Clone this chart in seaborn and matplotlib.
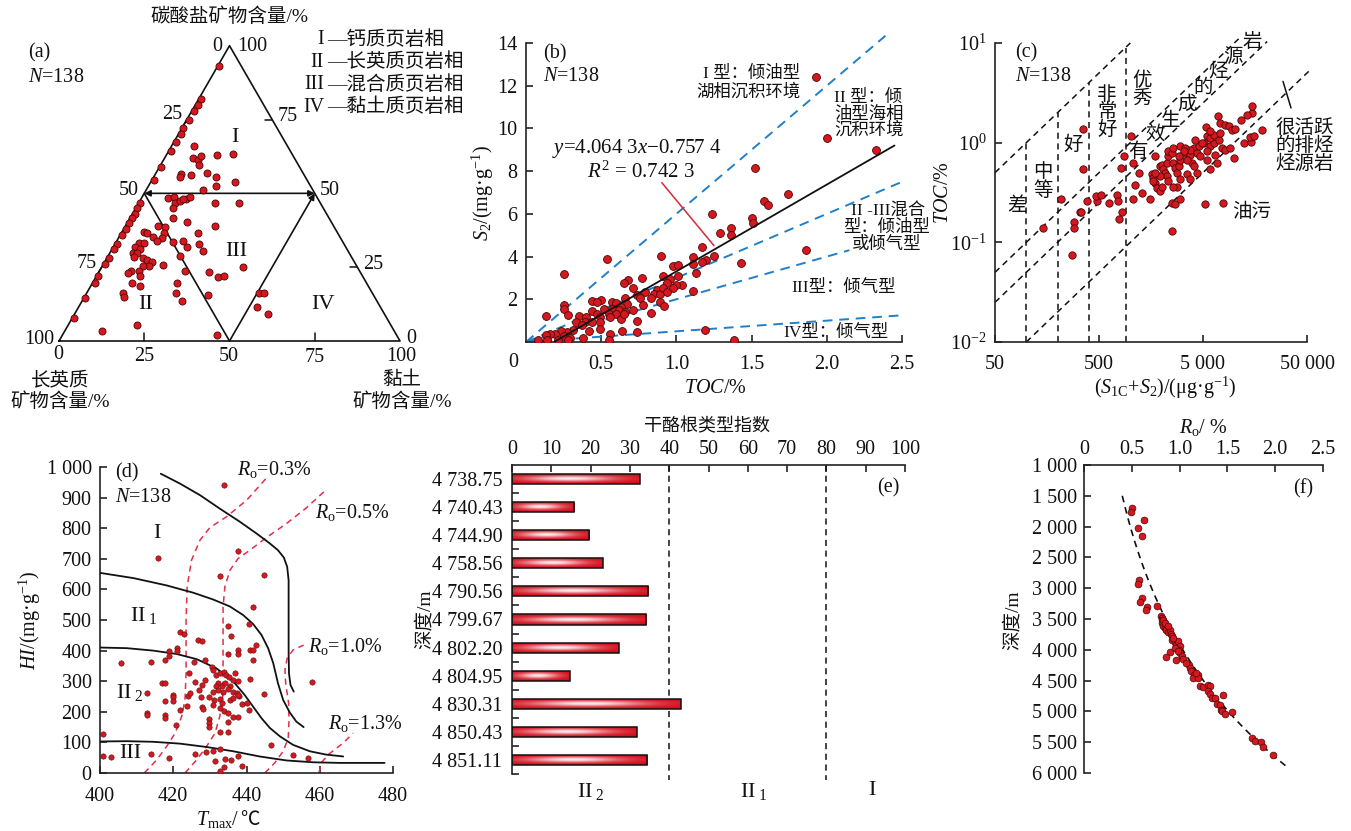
import numpy as np
import matplotlib
matplotlib.use("Agg")
import matplotlib.pyplot as plt
import seaborn as sns
from matplotlib.ticker import NullLocator, FixedLocator

# ---------------------------------------------------------------- data
# (a) ternary: carbonate and clay contents (%); felsic = 100 - carbonate - clay
CARB_A = [93, 82, 80, 78, 75, 72, 70, 67.5, 64.5, 59, 54.5, 46.6, 45, 43, 41.5, 40,
          38, 36, 33, 31, 28, 26, 22, 19.5, 14.4, 7.7,
          66.0, 61.9, 61.3, 62.8, 59.7, 63.0, 63.3, 56.6, 55.4, 56.2, 57.0, 55.6, 52.5,
          53.7, 51.1, 48.3, 48.9, 46.6, 47.5, 48.0, 48.9, 48.0, 46.6, 46.6, 44.9, 41.5,
          40.4, 38.9, 38.9, 38.7, 36.8, 36.5, 36.7, 34.8, 35.1, 34.0, 33.6, 33.9, 36.7,
          32.8, 31.7, 30.5, 33.1, 33.1, 31.7, 31.0, 29.9, 29.7, 28.3, 28.2, 27.4, 26.9,
          25.5, 25.5, 23.8, 23.8, 22.9, 22.0, 25.7, 28.9, 23.8, 23.3, 21.8, 22.0, 24.9,
          19.5, 18.6, 19.5, 16.3, 13.4, 15.5, 16.1, 15.0, 16.1, 16.4, 11.4, 9.1, 5.4,
          3.4, 2.0]
CLAY_A = [0.3, 0.5, 0.8, 0.5, 0.6, 0.4, 0.8, 0.5, 0.6, 0.4, 0.5, 0.6, 0.5, 0.8, 0.6, 0.5,
          0.7, 0.5, 0.6, 0.5, 0.8, 0.6, 0.5, 0.7, 0.5, 0.5,
          6.6, 8.3, 10.0, 10.3, 11.3, 14.7, 19.5, 7.4, 7.9, 10.5, 14.8, 18.2, 19.8,
          24.7, 16.6, 7.9, 9.3, 10.7, 11.8, 13.3, 14.0, 12.3, 22.4, 29.6, 11.1, 12.8,
          17.3, 26.3, 9.7, 11.7, 6.5, 7.5, 12.3, 12.7, 10.1, 11.8, 16.6, 19.5, 22.5,
          24.6, 21.6, 26.9, 7.0, 8.4, 6.4, 8.2, 6.8, 7.9, 7.8, 10.4, 12.0, 13.7,
          13.6, 12.0, 11.7, 9.1, 8.9, 12.9, 17.7, 21.0, 25.0, 32.2, 35.8, 37.4, 41.4,
          11.8, 14.6, 25.0, 26.2, 29.3, 35.8, 10.8, 11.6, 50.5, 52.0, 52.3, 56.7, 20.1,
          11.0, 45.2]

# (b) TOC (%) vs S2 (mg/g)
TOC_B = [1.93, 2.00, 2.33, 1.52, 1.74, 1.58, 1.61, 1.24, 1.50, 1.51, 1.36, 1.29, 1.36,
         1.86, 1.17, 1.25, 1.11, 1.20, 1.17, 1.11, 1.43, 0.90, 0.54, 0.98, 1.01, 1.13,
         1.01, 0.91, 0.25, 0.77, 0.68, 0.65, 0.96, 0.94, 1.04, 1.00, 0.71, 0.87, 0.79,
         1.11, 0.85, 0.74, 0.89, 0.76, 0.66, 0.83, 0.91, 0.98, 0.94, 0.89, 0.92, 0.78,
         0.50, 0.44, 0.47, 0.57, 0.60, 0.67, 0.63, 0.25, 0.25, 0.52, 0.57, 0.62, 0.66,
         0.71, 0.44, 0.47, 0.55, 0.60, 0.83, 0.13, 0.28, 0.35, 0.40, 0.49, 0.56, 0.63,
         0.65, 0.33, 0.39, 0.44, 0.49, 0.74, 0.37, 0.42, 0.49, 0.31, 0.27, 0.23, 0.19,
         0.16, 0.13, 0.25, 0.29, 0.38, 0.56, 0.64, 0.74, 0.08, 0.14, 0.21, 0.28, 0.55,
         1.19, 1.38]
S2_B = [12.39, 9.54, 8.98, 8.16, 6.91, 6.58, 6.40, 5.99, 5.79, 5.55, 5.36, 5.11, 5.02,
        4.29, 4.43, 4.04, 3.99, 3.86, 3.75, 3.63, 3.69, 4.02, 3.88, 3.58, 3.60, 3.24,
        3.08, 3.08, 3.17, 3.00, 2.92, 2.77, 2.94, 2.77, 2.69, 2.66, 2.55, 2.42, 2.35,
        2.39, 2.27, 2.21, 2.27, 2.08, 2.06, 2.08, 2.55, 2.55, 2.33, 1.88, 1.67, 1.72,
        1.97, 1.91, 1.88, 1.88, 1.83, 1.80, 1.64, 1.72, 1.56, 1.56, 1.53, 1.49, 1.41,
        1.49, 1.45, 1.33, 1.33, 1.33, 1.36, 1.24, 1.28, 1.24, 1.17, 1.17, 1.17, 1.09,
        1.33, 0.94, 0.94, 0.94, 0.94, 0.97, 0.78, 0.50, 0.63, 0.55, 0.45, 0.50, 0.39,
        0.36, 0.34, 0.27, 0.20, 0.19, 0.39, 0.50, 0.48, 0.11, 0.08, 0.08, 0.08, 0.08,
        0.58, 0.08]
FIT_SLOPE, FIT_INTERCEPT = 4.0643, -0.7574
# hydrogen-index guide lines (S2/TOC) and their x extent
HI_SLOPES = [6.0, 3.0, 2.0, 0.5]
HI_XMAX = [2.39, 2.50, 2.15, 2.50]

# (c) S1C+S2 (ug/g) vs TOC (%)
S12_C = [347, 347, 216, 146, 290, 288, 277, 329, 339, 381, 476, 466, 520, 630, 741, 758,
         780, 828, 817, 873, 1012, 1050, 1057, 1112, 1199, 1291, 1552, 1746, 1610, 1671,
         1734, 1799, 1909, 2009, 1644, 1936, 2009, 2084, 2163, 2244, 2328, 2244, 2328,
         2280, 2506, 2600, 2698, 2800, 2911, 3020, 2600, 3020, 3251, 3499, 3767, 3908,
         4055, 4365, 4529, 4207, 4699, 5058, 5445, 5861, 6310, 5370, 5445, 5861, 6310,
         7063, 6950, 7328, 8185, 8810, 9484, 10209, 7328, 7603, 8185, 9141, 9840, 6792,
         5861, 4365, 3499, 3020, 3767, 2800, 2506, 2698, 3020, 5176, 7762, 2506, 12270,
         14550, 14220, 15310, 18450, 14760, 14760, 13210, 11560, 3767, 5861, 5445, 3373,
         6546, 1936, 1746, 2600, 3251, 4875, 3499, 4055, 2911]
TOC_C = [1.37, 0.54, 0.27, 0.14, 0.16, 0.14, 0.075, 0.20, 0.20, 0.26, 0.26, 0.29, 0.30,
         0.25, 0.30, 0.26, 0.17, 0.20, 0.56, 0.73, 1.18, 0.63, 0.27, 0.38, 0.50, 0.31,
         0.27, 0.74, 0.48, 0.44, 0.39, 0.35, 0.33, 0.36, 0.41, 0.58, 0.60, 0.54, 0.50,
         0.46, 0.41, 0.63, 0.73, 0.82, 0.78, 0.63, 0.56, 0.50, 0.58, 0.67, 0.88, 0.92,
         0.79, 0.85, 0.76, 0.63, 0.88, 0.79, 0.92, 1.07, 0.73, 0.99, 0.67, 0.92, 0.99,
         1.43, 1.16, 1.11, 1.20, 1.07, 1.84, 1.57, 1.52, 1.48, 1.35, 1.37, 1.25, 0.88,
         0.85, 0.88, 0.70, 0.63, 0.54, 0.50, 0.48, 0.43, 0.43, 0.36, 0.25, 0.24, 0.27,
         0.24, 0.25, 0.13, 0.99, 1.01, 1.14, 1.16, 1.35, 1.99, 2.32, 1.91, 1.70, 0.85,
         1.30, 0.82, 0.88, 0.76, 0.46, 0.50, 0.36, 0.82, 0.99, 0.67, 0.58, 0.73]
# source-rock classes: TOC = (S1C+S2)/ratio
CLASS_RATIOS = [100, 1000, 2000, 10000]
CLASS_XRANGE = [(50, 1000), (50, 11000), (50, 20700), (100, 52000)]
GRADE_BOUNDS = [100, 200, 400, 900]

# (d) Tmax (degC) vs HI (mg/g)
TMAX_D = [433.8, 415.9, 437.8, 432.8, 444.8, 441.8, 440.7, 434.9, 435.8, 421.8, 422.8,
          426.7, 427.8, 420.9, 420.9, 418.9, 418.9, 417.8, 413.9, 405.8, 428.8, 425.7,
          434.9, 437.8, 437.8, 440.9, 441.8, 442.7, 441.8, 424.3, 430.5, 430.9, 431.8,
          432.7, 433.8, 434.5, 435.3, 436.8, 436.4, 437.7, 440.9, 416.9, 417.8, 425.9,
          428.8, 432.3, 433.2, 434.1, 435.5, 431.8, 432.3, 433.6, 435.0, 436.4, 437.3,
          437.9, 427.9, 430.9, 427.7, 420.0, 419.8, 419.8, 412.8, 417.8, 423.9, 424.7,
          426.9, 429.8, 431.2, 432.7, 433.2, 435.5, 436.4, 437.7, 438.9, 440.0, 444.7,
          427.8, 428.0, 430.9, 432.7, 433.9, 435.0, 436.2, 437.8, 440.8, 412.8, 412.8,
          417.8, 417.8, 421.8, 423.8, 429.8, 429.8, 429.8, 420.8, 434.9, 434.9, 432.7,
          400.8, 446.8, 400.9, 402.9, 413.8, 418.9, 426.0, 428.9, 430.9, 432.7, 437.7,
          434.0, 435.8, 431.3, 433.8, 438.9, 432.7, 452.8, 456.9, 457.9]
HI_D = [942, 704, 726, 643, 647, 541, 487, 480, 449, 460, 455, 435, 433, 410, 400, 398,
        383, 370, 364, 361, 370, 362, 388, 402, 389, 402, 402, 417, 370, 326, 348, 335,
        321, 326, 329, 321, 315, 328, 304, 301, 307, 293, 293, 299, 305, 293, 283, 293,
        285, 283, 270, 266, 274, 266, 263, 253, 287, 266, 250, 255, 247, 234, 261, 234,
        252, 261, 272, 247, 239, 241, 228, 239, 245, 254, 226, 230, 259, 217, 209, 223,
        212, 203, 196, 183, 184, 207, 196, 191, 190, 179, 205, 220, 177, 163, 150, 157,
        168, 134, 134, 126, 92, 54, 52, 63, 48, 62, 68, 73, 78, 54, 47, 41, 38, 20, 22,
        5, 60, 49, 297]
# kerogen-type boundaries
TYPE_I_T = [416.6, 421.8, 427.3, 432.7, 438.2, 442.7, 446.4, 448.6, 450.2, 451.1, 451.5,
            451.5, 451.5, 451.6, 452.0, 452.9]
TYPE_I_HI = [978, 946, 908, 864, 821, 783, 750, 728, 704, 674, 630, 500, 391, 326, 288, 266]
TYPE_II1_T = [400.0, 409.1, 418.2, 425.5, 430.9, 435.5, 439.1, 441.8, 444.1, 445.9, 447.3,
              448.6, 450.0, 451.8, 453.6, 455.6]
TYPE_II1_HI = [654, 637, 613, 589, 567, 544, 516, 487, 451, 408, 359, 293, 239, 198, 168, 150]
TYPE_II2_T = [400.0, 407.3, 414.5, 420.9, 426.4, 431.8, 436.4, 439.5, 441.8, 444.1, 446.4,
              449.1, 452.7, 457.3, 461.8, 466.4]
TYPE_II2_HI = [410, 408, 400, 389, 372, 342, 299, 255, 217, 179, 147, 120, 92, 71, 60, 54]
TYPE_III_T = [400.0, 407.3, 414.5, 421.8, 429.1, 436.4, 443.6, 450.9, 458.2, 465.5, 477.7]
TYPE_III_HI = [103, 104, 102, 96, 85, 71, 54, 41, 35, 33, 33]
# vitrinite-reflectance isolines
RO03_T = [412.1, 415.5, 418.2, 420.5, 422.3, 423.2, 423.5, 423.5, 423.8, 425.0, 427.3,
          430.0, 434.5, 440.0, 445.9]
RO03_HI = [0, 43, 87, 130, 185, 239, 326, 500, 609, 696, 761, 802, 837, 891, 970]
RO05_T = [423.2, 426.4, 429.1, 431.4, 432.7, 433.5, 433.6, 433.6, 434.1, 435.5, 437.7,
          440.9, 445.5, 450.9, 456.4, 461.4]
RO05_HI = [0, 43, 87, 130, 185, 250, 337, 543, 609, 663, 701, 728, 770, 815, 867, 922]
RO10_T = [445.0, 447.7, 450.0, 451.4, 451.6, 451.5, 450.7, 450.5, 451.1, 452.7, 455.6]
RO10_HI = [0, 33, 71, 114, 174, 228, 293, 337, 375, 402, 418]
RO13_T = [459.8, 460.4, 462.3, 466.4, 469.1]
RO13_HI = [0, 33, 60, 98, 130]

# (e) kerogen type index by depth
DEPTH_LABELS = ["4 738.75", "4 740.43", "4 744.90", "4 758.56", "4 790.56", "4 799.67",
                "4 802.20", "4 804.95", "4 830.31", "4 850.43", "4 851.11"]
KTI_VALUES = [32.5, 15.8, 19.7, 23.1, 34.7, 34.1, 27.1, 14.7, 42.9, 31.7, 34.4]
KTI_BOUNDS = [40, 80]

# (f) vitrinite reflectance vs depth
RO_F = [0.506, 0.492, 0.628, 0.565, 0.610, 0.579, 0.565, 0.610, 0.586, 0.659, 0.645,
        0.764, 0.806, 0.812, 0.819, 0.812, 0.826, 0.844, 0.861, 0.879, 0.896, 0.914,
        0.924, 0.917, 0.948, 0.966, 0.983, 1.001, 0.994, 1.008, 1.029, 0.900, 0.861,
        0.966, 1.036, 1.098, 1.105, 1.116, 1.147, 1.140, 1.193, 1.193, 1.210, 1.245,
        1.297, 1.315, 1.297, 1.322, 1.339, 1.370, 1.454, 1.395, 1.426, 1.437, 1.447,
        1.472, 1.552, 1.761, 1.786, 1.855, 1.873, 1.977, 0.826, 0.844, 0.879, 0.931,
        0.948, 0.983, 1.071, 1.175]
DEPTH_F = [1692, 1767, 1892, 2016, 2146, 2865, 2930, 3151, 3221, 3308, 3362, 3297, 3448,
           3486, 3524, 3567, 3611, 3648, 3675, 3719, 3686, 3740, 3784, 3838, 3875, 3919,
           3865, 3946, 4000, 4054, 4108, 4043, 4119, 4173, 4146, 4243, 4297, 4340, 4405,
           4459, 4416, 4459, 4594, 4605, 4578, 4594, 4665, 4714, 4784, 4784, 4740, 4876,
           4903, 4973, 5000, 5038, 5016, 5432, 5486, 5502, 5578, 5713, 3514, 3567, 3621,
           3811, 3973, 4027, 4216, 4378]
# exponential Ro-depth trend: Ro = A * exp(B * (depth - D0))
RO_TREND_A, RO_TREND_B, RO_TREND_D0 = 0.401, 0.000379, 1503
RO_TREND_RANGE = (1500, 5880)

# ---------------------------------------------------------------- style
sns.set_style("ticks")
plt.rcParams["font.family"] = ["Liberation Serif", "Noto Sans CJK SC"]
plt.rcParams["mathtext.fontset"] = "custom"
plt.rcParams["mathtext.rm"] = "Liberation Serif"
plt.rcParams["mathtext.it"] = "Liberation Serif:italic"
plt.rcParams["mathtext.bf"] = "Liberation Serif:bold"
for key in ["text.color", "axes.labelcolor", "xtick.color", "ytick.color"]:
    plt.rcParams[key] = "#111111"
plt.rcParams["axes.edgecolor"] = "#222222"
plt.rcParams["axes.linewidth"] = 1.2

RED = "#d51820"
EDGE = "#4a0606"
BLUE = "#1f80c8"
NUM = 14.5

W, H = 1351, 831
fig = plt.figure(figsize=(W / 100, H / 100), dpi=100)


def px_axes(left, top, right, bottom):
    return fig.add_axes([left / W, 1 - bottom / H, (right - left) / W, (bottom - top) / H])


def ptext(x, y, s, **kw):
    kw.setdefault("ha", "center")
    kw.setdefault("va", "center")
    fig.text(x / W, 1 - y / H, s, **kw)


def style_axes(ax, spines, pad=6):
    for side in ["left", "right", "top", "bottom"]:
        ax.spines[side].set_visible(side in spines)
    ax.tick_params(direction="in", length=5, width=1.1, labelsize=NUM, pad=pad)
    ax.tick_params(which="minor", direction="in", length=5, width=1.1)


def dots(ax, x, y, s, lw=0.6, edge=EDGE, z=4):
    sns.scatterplot(x=np.asarray(x), y=np.asarray(y), ax=ax, s=s, color=RED,
                    edgecolor=edge, linewidth=lw, legend=False, zorder=z)


# ---------------------------------------------------------------- (a) ternary
ax = px_axes(0, 0, 470, 420)
ax.set_xlim(-59 / 341, (470 - 59) / 341)
ax.set_ylim((341 - 420) / 341, 1.0)
ax.axis("off")
h = np.sqrt(3) / 2


def tern(carb, clay):
    c = np.asarray(carb, dtype=float) / 100
    k = np.asarray(clay, dtype=float) / 100
    return k + c / 2, c * h


ax.plot([0, 1, 0.5, 0], [0, 0, h, 0], color="#111", lw=1.2, zorder=2)
ax.plot([0.25, 0.5], [h / 2, 0], color="#111", lw=1.2, zorder=2)
ax.annotate("", xy=(0.75, h / 2), xytext=(0.25, h / 2),
            arrowprops=dict(arrowstyle="<|-|>", color="#111", lw=1.2,
                            shrinkA=0, shrinkB=0, mutation_scale=9))
ax.annotate("", xy=(0.75, h / 2), xytext=(0.5, 0),
            arrowprops=dict(arrowstyle="-|>", color="#111", lw=1.2,
                            shrinkA=0, shrinkB=0, mutation_scale=9))
tl = 0.022
for v in (0.25, 0.75):
    ax.plot([v, v], [0, tl], color="#111", lw=1.1)
    rx, ry = 1 - v / 2, v * h
    ax.plot([rx, rx - tl], [ry, ry], color="#111", lw=1.1)
    lx, ly = v / 2, v * h
    ax.plot([lx, lx - tl * 0.5], [ly, ly - tl * 0.866], color="#111", lw=1.1)

tx, ty = tern(CARB_A, CLAY_A)
dots(ax, tx, ty, s=26)

ax.text(0.4985, 0.950, "碳酸盐矿物含量/%", fontsize=14, ha="center", va="center")
for s, x, y in [("0", 0.463, 0.865), ("100", 0.566, 0.865),
                ("25", 0.331, 0.663), ("50", 0.205, 0.440), ("75", 0.082, 0.226),
                ("100", -0.059, 0.003), ("75", 0.672, 0.657), ("50", 0.795, 0.440),
                ("25", 0.921, 0.223), ("0", 1.032, 0.006), ("0", -0.003, -0.041),
                ("25", 0.249, -0.044), ("50", 0.4985, -0.044), ("75", 0.751, -0.047),
                ("100", 1.003, -0.044)]:
    ax.text(x, y, s, fontsize=NUM, ha="center", va="center")
ax.text(0.003, -0.114, "长英质", fontsize=14, ha="center", va="center")
ax.text(0.003, -0.179, "矿物含量/%", fontsize=14, ha="center", va="center")
ax.text(1.006, -0.114, "黏土", fontsize=14, ha="center", va="center")
ax.text(1.006, -0.179, "矿物含量/%", fontsize=14, ha="center", va="center")
ax.text(-0.091, 0.845, "(a)", fontsize=NUM, ha="left", va="center")
ax.text(-0.091, 0.774, r"$N$=138", fontsize=NUM, ha="left", va="center")
for numeral, name, y in [("I", "钙质页岩相", 0.883), ("II", "长英质页岩相", 0.818),
                         ("III", "混合质页岩相", 0.751), ("IV", "黏土质页岩相", 0.686)]:
    ax.text(0.777, y, numeral, fontsize=14.5, ha="right", va="center")
    ax.text(0.786, y, "—" + name, fontsize=14, ha="left", va="center")
for s, x, y in [("I", 0.516, 0.598), ("II", 0.255, 0.106), ("III", 0.519, 0.261),
                ("IV", 0.774, 0.106)]:
    ax.text(x, y, s, fontsize=16, ha="center", va="center")

# ---------------------------------------------------------------- (b) TOC-S2
ax = px_axes(526, 43, 902, 342)
style_axes(ax, ["left", "bottom"])
ax.tick_params(axis="x", pad=9)
ax.set_xlim(0, 2.5)
ax.set_ylim(0, 14)
ax.set_xticks([0.5, 1.0, 1.5, 2.0, 2.5])
ax.set_xticklabels(["0.5", "1.0", "1.5", "2.0", "2.5"])
ax.set_yticks([2, 4, 6, 8, 10, 12, 14])
ax.set_yticklabels(["2", "4", "6", "8", "10", "12", "14"])
ax.text(-0.084, -0.95, "0", fontsize=NUM, ha="center", va="center", clip_on=False)
for slope, xmax in zip(HI_SLOPES, HI_XMAX):
    xs = np.array([0.0, xmax])
    sns.lineplot(x=xs, y=slope * xs, ax=ax, color=BLUE, lw=1.4, zorder=2,
                 dashes=False, linestyle=(0, (5, 3.5)), clip_on=False)
fx = np.array([-FIT_INTERCEPT / FIT_SLOPE, 2.45])
sns.lineplot(x=fx, y=FIT_SLOPE * fx + FIT_INTERCEPT, ax=ax, color="#111", lw=1.3, zorder=5)
dots(ax, TOC_B, S2_B, s=32, z=4)
ax.plot([0.903, 1.25], [7.46, 4.51], color="#d42a3a", lw=1.1, zorder=6)
ax.text(0.115, 13.5, "(b)", fontsize=NUM, ha="left", va="center")
ax.text(0.115, 12.42, r"$N$=138", fontsize=NUM, ha="left", va="center")
ax.text(1.825, 12.56, "I 型：倾油型", fontsize=12.5, ha="right", va="center")
ax.text(1.825, 11.67, "湖相沉积环境", fontsize=12.5, ha="right", va="center")
ax.text(2.05, 11.43, "II 型：倾", fontsize=12.5, ha="left", va="center")
ax.text(2.05, 10.64, "油型海相", fontsize=12.5, ha="left", va="center")
ax.text(2.05, 9.93, "沉积环境", fontsize=12.5, ha="left", va="center")
ax.text(0.17, 9.04, r"$y$=4.064 3$x$−0.757 4", fontsize=15, ha="left", va="center")
ax.text(0.405, 7.96, r"$R^2$ = 0.742 3", fontsize=15, ha="left", va="center")
ax.text(2.164, 6.10, "II -III混合", fontsize=12.5, ha="left", va="center", clip_on=False)
ax.text(2.108, 5.32, "型：倾油型", fontsize=12.5, ha="left", va="center", clip_on=False)
ax.text(2.164, 4.54, "或倾气型", fontsize=12.5, ha="left", va="center", clip_on=False)
ax.text(1.766, 2.55, "III型：倾气型", fontsize=12.5, ha="left", va="center")
ax.text(1.71, 0.42, "IV型：倾气型", fontsize=12.5, ha="left", va="center")
ax.set_xlabel("")
ax.set_ylabel("")
ptext(483, 193, r"$S_2$/(mg·g$^{-1}$)", fontsize=NUM, rotation=90)
ptext(715, 388, r"$TOC$/%", fontsize=NUM)

# ---------------------------------------------------------------- (c) S1+S2 - TOC
ax = px_axes(995, 43, 1307, 342)
style_axes(ax, ["left", "bottom"], pad=6)
ax.tick_params(axis="x", pad=9)
ax.set_xscale("log")
ax.set_yscale("log")
ax.set_xlim(50, 50000)
ax.set_ylim(0.01, 10)
ax.xaxis.set_major_locator(FixedLocator([50, 500, 5000, 50000]))
ax.xaxis.set_minor_locator(NullLocator())
ax.yaxis.set_major_locator(FixedLocator([0.01, 0.1, 1, 10]))
ax.yaxis.set_minor_locator(NullLocator())
ax.set_xticklabels(["50", "500", "5 000", "50 000"])
ax.set_yticklabels([r"$10^{-2}$", r"$10^{-1}$", r"$10^{0}$", r"$10^{1}$"])
for ratio, (x0, x1) in zip(CLASS_RATIOS, CLASS_XRANGE):
    xs = np.array([x0, x1], dtype=float)
    ax.plot(xs, xs / ratio, color="#111", lw=1.1, ls=(0, (4, 3)), clip_on=False, zorder=2)
for xb in GRADE_BOUNDS:
    ax.plot([xb, xb], [0.01, xb / CLASS_RATIOS[0]], color="#111", lw=1.1,
            ls=(0, (4, 3)), zorder=2)
ax.plot([29400, 35100], [4.12, 2.23], color="#111", lw=1.1, clip_on=False)
dots(ax, S12_C, TOC_C, s=28)
ax.text(77.8, 8.0, "(c)", fontsize=NUM, ha="left", va="center")
ax.text(77.8, 4.6, r"$N$=138", fontsize=NUM, ha="left", va="center")
ax.text(81.5, 0.228, "差", fontsize=14, ha="center", va="center")
ax.text(145, 0.405, "中\n等", fontsize=14, ha="center", va="center", linespacing=1.0)
ax.text(282, 0.953, "好", fontsize=14, ha="center", va="center")
ax.text(598, 2.0, "非\n常\n好", fontsize=14, ha="center", va="center", linespacing=0.95)
ax.text(1300, 3.4, "优\n秀", fontsize=14, ha="center", va="center", linespacing=1.0)
for ch, x, y in [("有", 1189, 0.81), ("效", 1734, 1.20), ("生", 2470, 1.62),
                 ("成", 3524, 2.40), ("的", 5024, 3.56), ("烃", 7000, 5.15),
                 ("源", 9770, 7.28), ("岩", 14860, 10.3)]:
    ax.text(x, y, ch, fontsize=14, ha="center", va="center", clip_on=False)
ax.text(47100, 0.93, "很活跃\n的排烃\n烃源岩", fontsize=14, ha="center", va="center",
        linespacing=1.0, clip_on=False)
ax.text(14800, 0.204, "油污", fontsize=14, ha="center", va="center")
ax.set_xlabel("")
ax.set_ylabel("")
ptext(943, 193, r"$TOC$/%", fontsize=NUM, rotation=90)
ptext(1165, 388, r"($S_{\rm 1C}$+$S_2$)/(μg·g$^{-1}$)", fontsize=NUM)

# ---------------------------------------------------------------- (d) Tmax - HI
ax = px_axes(100, 467, 393, 773)
style_axes(ax, ["left", "bottom"])
ax.tick_params(axis="x", pad=10)
ax.set_xlim(400, 480)
ax.set_ylim(0, 1000)
ax.set_xticks([400, 420, 440, 460, 480])
ax.set_yticks(range(0, 1001, 100))
ax.set_yticklabels([str(v) if v < 1000 else "1 000" for v in range(0, 1001, 100)])
for tt, hh in [(TYPE_I_T, TYPE_I_HI), (TYPE_II1_T, TYPE_II1_HI),
               (TYPE_II2_T, TYPE_II2_HI), (TYPE_III_T, TYPE_III_HI)]:
    ax.plot(tt, hh, color="#111", lw=1.3, zorder=3, solid_capstyle="round")
for tt, hh in [(RO03_T, RO03_HI), (RO05_T, RO05_HI), (RO10_T, RO10_HI), (RO13_T, RO13_HI)]:
    ax.plot(tt, hh, color="#e0304a", lw=1.1, ls=(0, (4, 3)), zorder=2)
dots(ax, TMAX_D, HI_D, s=15, lw=0.4, edge="#5a1010")
ax.text(404.1, 980, "(d)", fontsize=NUM, ha="left", va="center")
ax.text(404.1, 900, r"$N$=138", fontsize=NUM, ha="left", va="center")
ax.text(415.5, 783, "I", fontsize=16, ha="center", va="center")
ax.text(408.2, 516, r"II$_{\ 1}$", fontsize=16, ha="left", va="center")
ax.text(404.5, 263, r"II$_{\ 2}$", fontsize=16, ha="left", va="center")
ax.text(408.2, 65, "III", fontsize=16, ha="center", va="center")
ax.text(437.3, 991, r"$R_{\rm o}$=0.3%", fontsize=NUM, ha="left", va="center", clip_on=False)
ax.text(458.6, 850, r"$R_{\rm o}$=0.5%", fontsize=NUM, ha="left", va="center")
ax.text(456.8, 415, r"$R_{\rm o}$=1.0%", fontsize=NUM, ha="left", va="center")
ax.text(462.3, 163, r"$R_{\rm o}$=1.3%", fontsize=NUM, ha="left", va="center")
ax.set_xlabel("")
ax.set_ylabel("")
ptext(30, 620, r"$HI$/(mg·g$^{-1}$)", fontsize=NUM, rotation=90)
ptext(240, 825, r"$T_{\rm max}$/", fontsize=NUM, ha="right", va="baseline")
ptext(240, 825, "℃", fontsize=14, ha="left", va="baseline",
      family=["Noto Sans CJK SC", "DejaVu Sans"])

# ---------------------------------------------------------------- (e) kerogen type index
ax = px_axes(512, 465, 905, 774)
sns.barplot(x=KTI_VALUES, y=DEPTH_LABELS, order=DEPTH_LABELS, orient="h", width=0.36,
            color=RED, edgecolor="#111", linewidth=1.1, ax=ax, zorder=3)
u = np.linspace(0, 1, 300)[None, :]
v = np.linspace(0, 1, 40)[:, None]
glow = np.exp(-((v - 0.5) / 0.26) ** 2) * np.exp(-((u - 0.45) / 0.34) ** 2)
base = np.array([0.83, 0.05, 0.11])
light = np.array([1.0, 0.94, 0.94])
img = base[None, None, :] * (1 - glow[..., None]) + light[None, None, :] * glow[..., None]
for p in ax.patches:
    x0, y0, bw, bh = p.get_x(), p.get_y(), p.get_width(), p.get_height()
    im = ax.imshow(img, extent=(x0, x0 + bw, y0 + bh, y0), aspect="auto",
                   interpolation="bilinear", zorder=2)
    im.set_clip_path(p)
    p.set_facecolor("none")
ax.set_xlim(0, 100)
ax.set_ylim(10.5, -0.5)
style_axes(ax, ["left", "top"], pad=4)
ax.xaxis.set_ticks_position("top")
ax.set_xticks(range(0, 101, 10))
ax.tick_params(axis="y", which="major", length=0, pad=7)
ax.yaxis.set_minor_locator(FixedLocator(np.arange(0.5, 11, 1.0)))
for xb in KTI_BOUNDS:
    ax.plot([xb, xb], [-0.5, 10.7], color="#111", lw=1.1, ls=(0, (4, 3)), clip_on=False,
            zorder=1)
blend = ax.get_xaxis_transform()
ax.text(20, -0.022, r"II$_{\ 2}$", transform=blend, fontsize=16, ha="center", va="top")
ax.text(61.5, -0.022, r"II$_{\ 1}$", transform=blend, fontsize=16, ha="center", va="top")
ax.text(91.5, -0.022, "I", transform=blend, fontsize=16, ha="center", va="top")
ax.text(95.8, 0.32, "(e)", fontsize=NUM, ha="center", va="center")
ax.set_xlabel("")
ax.set_ylabel("")
ptext(425, 619, "深度/m", fontsize=14, rotation=90)
ptext(707, 427, "干酪根类型指数", fontsize=13)

# ---------------------------------------------------------------- (f) Ro - depth
ax = px_axes(1084, 465, 1323, 773)
style_axes(ax, ["left", "top"], pad=5)
ax.xaxis.set_ticks_position("top")
ax.set_xlim(0, 2.5)
ax.set_ylim(6000, 1000)
ax.set_xticks([0, 0.5, 1.0, 1.5, 2.0, 2.5])
ax.set_xticklabels(["0", "0.5", "1.0", "1.5", "2.0", "2.5"])
ax.set_yticks(range(1000, 6001, 500))
ax.set_yticklabels([f"{v // 1000} {v % 1000:03d}" for v in range(1000, 6001, 500)])
ax.tick_params(axis="x", pad=4)
dd = np.linspace(*RO_TREND_RANGE, 200)
sns.lineplot(x=RO_TREND_A * np.exp(RO_TREND_B * (dd - RO_TREND_D0)), y=dd, ax=ax,
             sort=False, estimator=None, color="#111", lw=1.2, linestyle=(0, (4, 3)),
             zorder=2)
dots(ax, RO_F, DEPTH_F, s=24, lw=0.5)
ax.text(2.29, 1378, "(f)", fontsize=NUM, ha="center", va="center")
ax.set_xlabel("")
ax.set_ylabel("")
ptext(1013, 620, "深度/m", fontsize=14, rotation=90)
ptext(1203, 428, r"$R_{\rm o}$/ %", fontsize=NUM)

fig.savefig("out.png", dpi=100)
